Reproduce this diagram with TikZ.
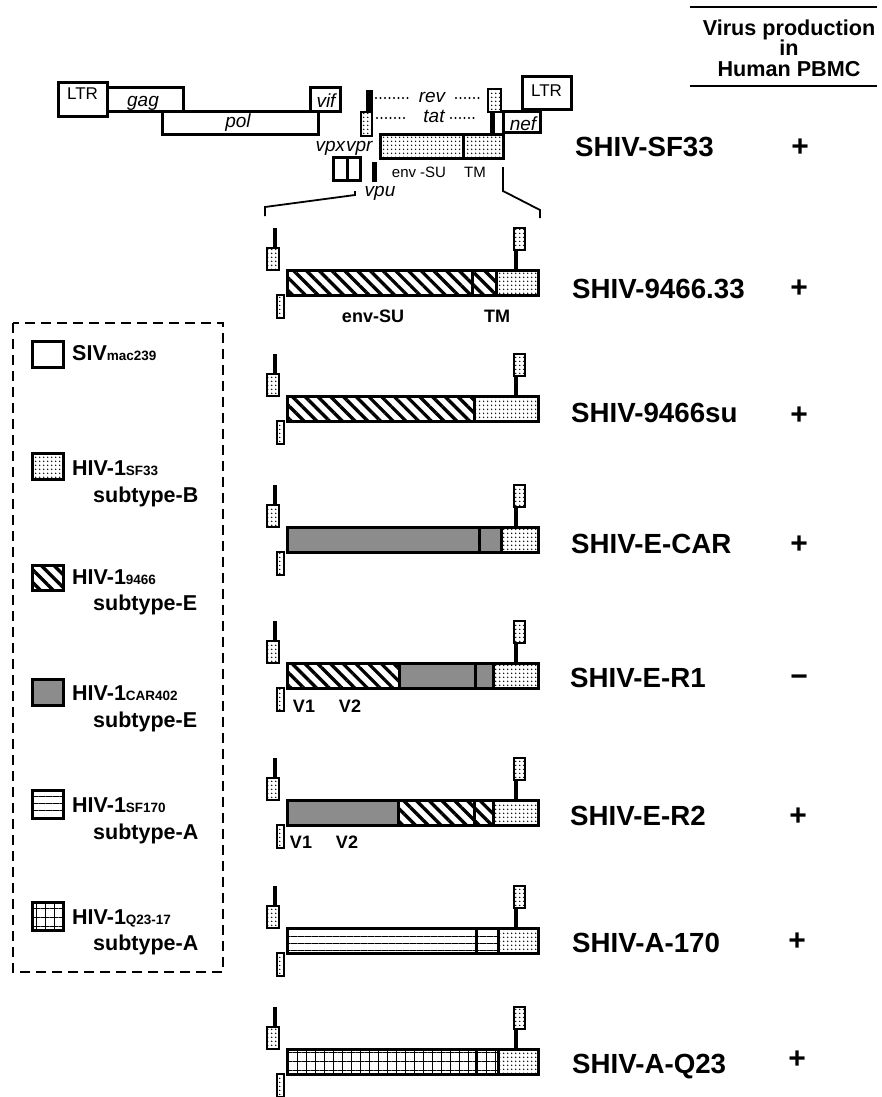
\documentclass[tikz,border=0pt]{standalone}
\usepackage{fontspec}
\setmainfont{Liberation Sans}
\usetikzlibrary{patterns.meta,positioning}
\definecolor{carGray}{gray}{0.55}
\newcommand{\namefont}{\fontsize{27.7}{30}\selectfont\bfseries}
\newcommand{\keyfont}{\fontsize{21.5}{22}\selectfont\bfseries}
\newcommand{\subfont}{\fontsize{13.5}{14}\selectfont}
\tikzset{
  box/.style={draw,line width=3pt},
  sivbox/.style={box,fill=white},
  sfbox/.style={box,pattern={Dots[distance=4pt,radius=0.95pt]}},
  sfsmall/.style={draw,line width=2.4pt,pattern={Dots[distance=4pt,radius=0.95pt]}},
  hatchbox/.style={box,pattern={Lines[angle=-45,distance=9pt,line width=3.3pt]}},
  carbox/.style={box,fill=carGray},
  linebox/.style={box,pattern={Lines[angle=0,distance=7pt,line width=0.9pt]}},
  gridbox/.style={box,pattern={Hatch[angle=0,distance=9pt,line width=0.9pt]}},
  genetxt/.style={anchor=base,inner sep=0pt,font=\fontsize{19}{20}\selectfont\itshape},
  ltrtxt/.style={anchor=base,inner sep=0pt,font=\fontsize{17}{18}\selectfont},
  envtxt/.style={anchor=base,inner sep=0pt,font=\fontsize{15}{16}\selectfont},
  regtxt/.style={anchor=base,inner sep=0pt,font=\fontsize{18}{19}\selectfont\bfseries},
  leader/.style={line width=2.2pt,line cap=round,dash pattern=on 0pt off 4.5pt},
  zoomln/.style={line width=1.8pt},
  cname/.style={anchor=west,inner sep=0pt,font=\namefont,text height=20pt,text depth=0pt},
  sign/.style={inner sep=0pt,font=\fontsize{30}{30}\selectfont\bfseries,text height=20pt,text depth=0pt},
  keytxt/.style={anchor=west,inner sep=0pt,font=\keyfont,text height=15.5pt,text depth=0pt},
  hdr/.style={align=center,inner sep=0pt,font=\fontsize{21.6}{20.5}\selectfont\bfseries},
}
% rev/tat/vpu exons beside each env insert
\newcommand{\revtatflags}{%
  \fill (273,-42) rectangle (277,-22);
  \draw[sfsmall] (267,-22) rectangle (279,0);
  \draw[sfsmall] (277,25) rectangle (284,48);
  \draw[sfsmall] (514,-42) rectangle (525,-20);
  \fill (514,-20) rectangle (518,0);
}
\begin{document}
\begin{tikzpicture}[x=1pt,y=-1pt]
  \useasboundingbox (0,0) rectangle (881,1097);
  % header
  \node[hdr] (hdr) at (789,48) {Virus production\\in\\Human PBMC};
  \draw[line width=2.4pt] (690,7) -- (877,7);
  \draw[line width=2.4pt] (690,86) -- (877,86);
  % SHIV-SF33 genome
  \draw[box] (58,83) rectangle (107,117);
  \node[ltrtxt] (ltrL) at (82.5,100) {LTR};
  \draw[box] (162,112) rectangle (318,135);
  \node[genetxt] (pol) at (238,128) {pol};
  \draw[box] (107,88) rectangle (183,112);
  \node[genetxt] (gag) at (143,107) {gag};
  \draw[box] (310,88) rectangle (340,112);
  \node[genetxt] (vif) at (326,108) {vif};
  \fill (366,90) rectangle (373,112);
  \draw[sfsmall] (361,112) rectangle (372,136);
  \draw[leader] (376,98) -- (412,98);
  \node[genetxt] (rev) at (432,103) {rev};
  \draw[leader] (456,98) -- (483,98);
  \draw[leader] (377,118) -- (405,118);
  \node[genetxt] (tat) at (434,123) {tat};
  \draw[leader] (451,118) -- (478,118);
  \draw[sfsmall] (488,89) rectangle (501,112);
  \fill (490,112) rectangle (495,135);
  \draw[box] (503,112) rectangle (540,133);
  \node[genetxt] (nef) at (523,131) {nef};
  \draw[box] (522,77) rectangle (571,110);
  \node[ltrtxt] (ltrR) at (546.5,97) {LTR};
  \draw[sfbox] (380,135) rectangle (463,158);
  \draw[sfbox] (463,135) rectangle (503,158);
  \node[envtxt] (envsu) at (419,177) {env -SU};
  \node[envtxt] (envtm) at (475,177) {TM};
  \draw[box] (333,157) rectangle (347,180);
  \draw[box] (347,157) rectangle (360,180);
  \node[genetxt] (vpxvpr) at (344,151) {vpx\kern1pt vpr};
  \fill (372,162) rectangle (377,182);
  \node[genetxt] (vpu) at (380,196) {vpu};
  \node[cname] (nSF33) at (575,147) {SHIV-SF33};
  \node[sign] (pSF33) at (800,147) {+};
  % zoom lines
  \coordinate (zlA) at (265,216);
  \coordinate (zlB) at (355,191);
  \coordinate (zrA) at (503,167);
  \coordinate (zrB) at (540,218);
  \draw[zoomln] (zlA) -- (265,207) -- (355,195) -- (zlB);
  \draw[zoomln] (zrA) -- (503,191) -- (540,210) -- (zrB);
  % SHIV-9466.33
  \begin{scope}[shift={(0,270)}]
    \revtatflags
    \draw[hatchbox] (287,0) rectangle (472,25);
    \draw[hatchbox] (472,0) rectangle (496,25);
    \draw[sfbox] (496,0) rectangle (538,25);
    \node[regtxt] (su1) at (373,52) {env-SU};
    \node[regtxt] (tm1) at (497,52) {TM};
  \end{scope}
  \node[cname] (n9466a) at (572,288) {SHIV-9466.33};
  \node[sign] (p9466a) at (799,287) {+};
  % SHIV-9466su
  \begin{scope}[shift={(0,396)}]
    \revtatflags
    \draw[hatchbox] (287,0) rectangle (474,25);
    \draw[sfbox] (474,0) rectangle (538,25);
  \end{scope}
  \node[cname] (n9466su) at (571,412) {SHIV-9466su};
  \node[sign] (p9466su) at (799,414) {+};
  % SHIV-E-CAR
  \begin{scope}[shift={(0,527)}]
    \revtatflags
    \draw[carbox] (287,0) rectangle (479,25);
    \draw[carbox] (479,0) rectangle (501,25);
    \draw[sfbox] (501,0) rectangle (538,25);
  \end{scope}
  \node[cname] (nECAR) at (571,543) {SHIV-E-CAR};
  \node[sign] (pECAR) at (799,543) {+};
  % SHIV-E-R1
  \begin{scope}[shift={(0,663)}]
    \revtatflags
    \draw[hatchbox] (287,0) rectangle (399,25);
    \draw[carbox] (399,0) rectangle (475,25);
    \draw[carbox] (475,0) rectangle (493,25);
    \draw[sfbox] (493,0) rectangle (538,25);
    \node[regtxt] (v1a) at (304,49) {V1};
    \node[regtxt] (v2a) at (350,49) {V2};
  \end{scope}
  \node[cname] (nER1) at (570,677) {SHIV-E-R1};
  \node[sign] (pER1) at (799,676) {−};
  % SHIV-E-R2
  \begin{scope}[shift={(0,800)}]
    \revtatflags
    \draw[carbox] (287,0) rectangle (398,25);
    \draw[hatchbox] (398,0) rectangle (474,25);
    \draw[hatchbox] (474,0) rectangle (493,25);
    \draw[sfbox] (493,0) rectangle (538,25);
    \node[regtxt] (v1b) at (301,48) {V1};
    \node[regtxt] (v2b) at (347,48) {V2};
  \end{scope}
  \node[cname] (nER2) at (570,815) {SHIV-E-R2};
  \node[sign] (pER2) at (798,815) {+};
  % SHIV-A-170
  \begin{scope}[shift={(0,928)}]
    \revtatflags
    \draw[linebox] (287,0) rectangle (476,25);
    \draw[linebox] (476,0) rectangle (498,25);
    \draw[sfbox] (498,0) rectangle (538,25);
  \end{scope}
  \node[cname] (nA170) at (572,942) {SHIV-A-170};
  \node[sign] (pA170) at (797,940) {+};
  % SHIV-A-Q23
  \begin{scope}[shift={(0,1049)}]
    \revtatflags
    \draw[gridbox] (287,0) rectangle (476,25);
    \draw[gridbox] (476,0) rectangle (498,25);
    \draw[sfbox] (498,0) rectangle (538,25);
  \end{scope}
  \node[cname] (nAQ23) at (572,1063) {SHIV-A-Q23};
  \node[sign] (pAQ23) at (797,1058) {+};
  % legend
  \draw[line width=2.8pt,dash pattern=on 10pt off 6pt] (13,323) rectangle (223,972);
  \draw[sivbox] (32,341) rectangle (63,367);
  \node[keytxt] (kSIV) at (72,353) {SIV{\subfont mac239}};
  \draw[sfbox] (32,453) rectangle (63,479);
  \node[keytxt] (kSF33) at (72,468) {HIV-1{\subfont SF33}};
  \node[keytxt] (kSF33b) at (93,495) {subtype-B};
  \draw[hatchbox] (32,565) rectangle (63,590);
  \node[keytxt] (k9466) at (72,577) {HIV-1{\subfont 9466}};
  \node[keytxt] (k9466b) at (93,603) {subtype-E};
  \draw[carbox] (32,679) rectangle (63,705);
  \node[keytxt] (kCAR) at (72,693) {HIV-1{\subfont CAR402}};
  \node[keytxt] (kCARb) at (93,720) {subtype-E};
  \draw[linebox] (32,790) rectangle (63,818);
  \node[keytxt] (kSF170) at (72,805) {HIV-1{\subfont SF170}};
  \node[keytxt] (kSF170b) at (93,832) {subtype-A};
  \draw[gridbox] (32,902) rectangle (63,930);
  \node[keytxt] (kQ23) at (72,917) {HIV-1{\subfont Q23-17}};
  \node[keytxt] (kQ23b) at (93,943) {subtype-A};
\end{tikzpicture}
\end{document}
